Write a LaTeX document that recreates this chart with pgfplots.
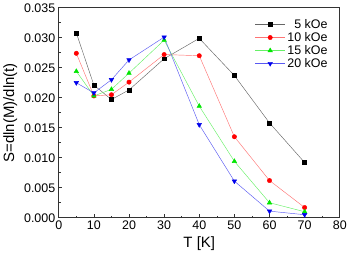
\documentclass[border=0pt]{standalone}
\usepackage{pgfplots}
\pgfplotsset{compat=1.18}
\usepackage{fontspec}
\setmainfont{Liberation Sans}
\definecolor{cblack}{RGB}{0,0,0}
\definecolor{cred}{RGB}{255,0,0}
\definecolor{cgreen}{RGB}{0,230,0}
\definecolor{cblue}{RGB}{0,0,235}
\begin{document}
\begin{tikzpicture}
\begin{axis}[
  scale only axis,
  width=281bp, height=210bp,
  xmin=0, xmax=80, ymin=0, ymax=0.035,
  xtick={0,10,20,30,40,50,60,70,80},
  ytick={0,0.005,0.010,0.015,0.020,0.025,0.030,0.035},
  minor x tick num=1, minor y tick num=1,
  tick align=inside,
  xtick pos=bottom, ytick pos=left,
  major tick length=3.5pt, minor tick length=2pt,
  axis line style={line width=0.8pt, color=black!80},
  every tick/.style={black!80, line width=0.6pt},
  scaled y ticks=false,
  yticklabel style={/pgf/number format/.cd, fixed, fixed zerofill, precision=3},
  /pgf/number format/assume math mode=true,
  tick label style={font=\fontsize{12.5}{13}\selectfont},
  xlabel={T [K]}, ylabel={S=dln(M)/dln(t)},
  label style={font=\fontsize{15}{16}\selectfont},
  legend style={draw=none, fill=none, at={(0.975,0.965)}, anchor=north east,
    font=\fontsize{12.5}{13}\selectfont, row sep=-1.5pt},
  legend cell align=right,
  legend image code/.code={
    \draw[mark repeat=2, mark phase=2] plot coordinates {(0bp,0bp) (15bp,0bp) (30bp,0bp)};
  },
  every axis plot/.append style={line width=0.45pt},
]
\addplot[black!60, mark=square*, mark size=2pt, mark options={fill=black, draw=black}] coordinates {
  (5,0.0308) (10,0.0221) (15,0.0197) (20,0.0213) (30,0.0265)
  (40,0.0299) (50,0.0237) (60,0.0158) (70,0.0092)};
\addlegendentry{5 kOe}
\addplot[cred!55, mark=*, mark size=2.2pt, mark options={fill=cred, draw=cred}] coordinates {
  (5,0.0274) (10,0.0203) (15,0.0205) (20,0.0226) (30,0.0272)
  (40,0.0270) (50,0.0135) (60,0.0062) (70,0.0017)};
\addlegendentry{10 kOe}
\addplot[cgreen!60, mark=triangle*, mark size=2.6pt, mark options={fill=cgreen, draw=cgreen}] coordinates {
  (5,0.0244) (10,0.0203) (15,0.0214) (20,0.0241) (30,0.0296)
  (40,0.0186) (50,0.0094) (60,0.0025) (70,0.0010)};
\addlegendentry{15 kOe}
\addplot[cblue!65, mark=triangle*, mark size=2.6pt, mark options={fill=cblue, draw=cblue, rotate=180}] coordinates {
  (5,0.0225) (10,0.0208) (15,0.0230) (20,0.0263) (30,0.0301)
  (40,0.0155) (50,0.0061) (60,0.0011) (70,0.0005)};
\addlegendentry{20 kOe}
\end{axis}
\end{tikzpicture}
\end{document}
